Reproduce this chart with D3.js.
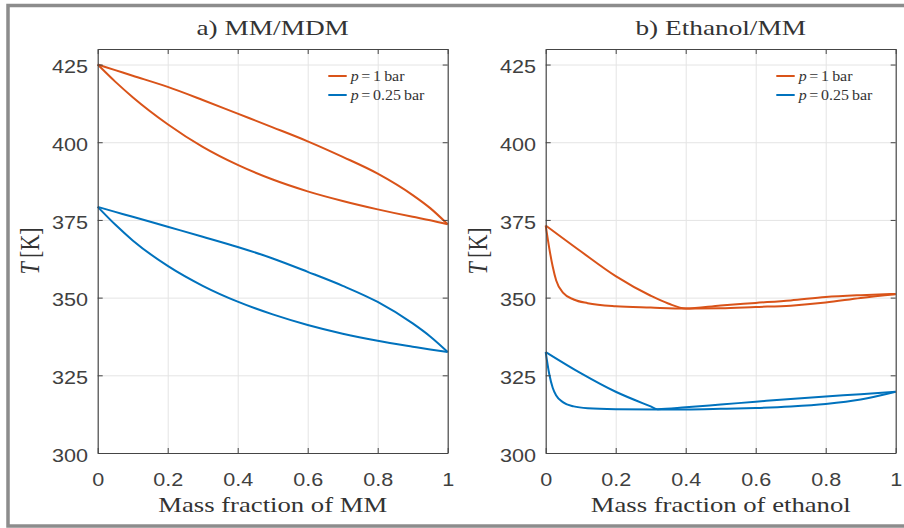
<!DOCTYPE html>
<html>
<head>
<meta charset="utf-8">
<script src="https://cdn.jsdelivr.net/npm/d3@7"></script>
<style>
  body { margin: 0; background: #fff; }
  svg { display: block; }
  .serif { font-family: "Liberation Serif", "DejaVu Serif", "Times New Roman", Times, serif; }
</style>
</head>
<body>
<script>
const [W, H] = [904, 528];
const X_TICKS = [0, 0.2, 0.4, 0.6, 0.8, 1];
const Y_TICKS = [300, 325, 350, 375, 400, 425];
const TITLES = ['a) MM/MDM', 'b) Ethanol/MM'];
const X_LABELS = ['Mass fraction of MM', 'Mass fraction of ethanol'];
const LEGEND = ['1', '0.25'];
const COLORS = ['#D95319', '#0072BD'];

// a) MM/MDM, T in K against mass fraction of MM
const mmX     = [0, 0.05, 0.1, 0.2, 0.3, 0.4, 0.5, 0.6, 0.7, 0.8, 0.9, 0.95, 1];
const mm1Dew  = [425, 423.2, 421.4, 417.8, 413.6, 409.2, 404.8, 400.3, 395.3, 389.9, 383.0, 378.8, 373.6];
const mm1Bub  = [425, 419.5, 414.5, 405.8, 398.5, 392.7, 388.0, 384.2, 381.1, 378.4, 376.0, 374.9, 373.6];
const mmQDew  = [379.2, 377.6, 376.0, 372.8, 369.6, 366.3, 362.6, 358.3, 353.8, 348.6, 341.7, 337.5, 332.5];
const mmQBub  = [379.2, 373.5, 368.4, 360.2, 353.8, 348.7, 344.6, 341.2, 338.4, 336.1, 334.2, 333.3, 332.5];

// b) Ethanol/MM, T in K against mass fraction of ethanol
const eth1DewX = [0, 0.1, 0.2, 0.3, 0.35, 0.4, 0.5, 0.6, 0.7, 0.8, 0.9, 1];
const eth1Dew  = [373.2, 364.9, 356.9, 350.6, 348.1, 346.5, 347.5, 348.3, 349.1, 350.2, 350.8, 351.2];
const eth1BubX = [0, 0.01, 0.02, 0.03, 0.05, 0.08, 0.12, 0.2, 0.3, 0.4, 0.5, 0.6, 0.7, 0.8, 0.9, 1];
const eth1Bub  = [373.2, 366.0, 360.0, 355.5, 351.5, 349.4, 348.2, 347.2, 346.8, 346.5, 346.6, 347.0, 347.4, 348.4, 349.9, 351.1];
const ethQDewX = [0, 0.1, 0.2, 0.3, 0.32, 0.4, 0.5, 0.6, 0.7, 0.8, 0.9, 1];
const ethQDew  = [332.5, 325.7, 319.7, 315.0, 314.1, 314.7, 315.6, 316.5, 317.4, 318.2, 318.9, 319.7];
const ethQBubX = [0, 0.01, 0.02, 0.03, 0.05, 0.08, 0.12, 0.2, 0.32, 0.4, 0.5, 0.6, 0.7, 0.8, 0.9, 1];
const ethQBub  = [332.5, 325.5, 321.0, 318.5, 316.3, 315.0, 314.4, 314.1, 314.0, 314.0, 314.2, 314.5, 315.0, 315.8, 317.2, 319.7];

const zip = (xs, ys) => xs.map((x, i) => [x, ys[i]]);
const PANELS = [
  { series: [[mmX, mm1Dew, 0], [mmX, mm1Bub, 0], [mmX, mmQDew, 1], [mmX, mmQBub, 1]] },
  { series: [[eth1DewX, eth1Dew, 0], [eth1BubX, eth1Bub, 0], [ethQDewX, ethQDew, 1], [ethQBubX, ethQBub, 1]] }
];

const PLOT = { lefts: [97.7, 545.7], w: 350, top: 49, bottom: 453 };
const SX = 1.2;   // text in the figure is horizontally stretched
const SANS = '"Liberation Sans", Arial, sans-serif';
const AXIS_COLOR = '#454545';
const TEXT_COLOR = '#333333';

const svg = d3.select('body').append('svg').attr('width', W).attr('height', H);

// outer frame
svg.append('rect')
  .attr('x', 8).attr('y', 5.5).attr('width', 1000).attr('height', 520.5)
  .attr('fill', 'none').attr('stroke', '#8c8c8c').attr('stroke-width', 3.5);

const yScale = d3.scaleLinear().domain([300, 430]).range([PLOT.bottom, PLOT.top]);

const serifText = (sel, size) => sel
  .attr('class', 'serif').attr('font-size', size).attr('fill', TEXT_COLOR);

PANELS.forEach((panel, p) => {
  const left = PLOT.lefts[p];
  const right = left + PLOT.w;
  const xScale = d3.scaleLinear().domain([0, 1]).range([left, right]);
  const g = svg.append('g');

  // grid
  const gridX = g.append('g')
    .attr('transform', 'translate(0,' + PLOT.bottom + ')')
    .call(d3.axisBottom(xScale).tickValues(X_TICKS.slice(1, -1)).tickSize(-(PLOT.bottom - PLOT.top)).tickFormat(''));
  const gridY = g.append('g')
    .attr('transform', 'translate(' + left + ',0)')
    .call(d3.axisLeft(yScale).tickValues(Y_TICKS.slice(1)).tickSize(-PLOT.w).tickFormat(''));
  [gridX, gridY].forEach(gr => {
    gr.select('.domain').remove();
    gr.selectAll('line').attr('stroke', '#e4e4e4');
  });

  // curves
  const line = d3.line()
    .x(d => xScale(d[0]))
    .y(d => yScale(d[1]))
    .curve(d3.curveMonotoneX);
  panel.series.forEach(([xs, ys, c]) => {
    g.append('path')
      .attr('d', line(zip(xs, ys)))
      .attr('fill', 'none')
      .attr('stroke', COLORS[c])
      .attr('stroke-width', 2)
      .attr('stroke-linejoin', 'round');
  });

  // axes with inward ticks, box on
  const bottomAxis = g.append('g')
    .attr('transform', 'translate(0,' + PLOT.bottom + ')')
    .call(d3.axisBottom(xScale).tickValues(X_TICKS).tickSize(-5).tickSizeOuter(0).tickPadding(20)
      .tickFormat(d3.format('~g')));
  const leftAxis = g.append('g')
    .attr('transform', 'translate(' + left + ',0)')
    .call(d3.axisLeft(yScale).tickValues(Y_TICKS).tickSize(-5).tickSizeOuter(0).tickPadding(8));
  const topAxis = g.append('g')
    .attr('transform', 'translate(0,' + PLOT.top + ')')
    .call(d3.axisTop(xScale).tickValues(X_TICKS).tickSize(-5).tickSizeOuter(0).tickFormat(''));
  const rightAxis = g.append('g')
    .attr('transform', 'translate(' + right + ',0)')
    .call(d3.axisRight(yScale).tickValues(Y_TICKS).tickSize(-5).tickSizeOuter(0).tickFormat(''));

  [bottomAxis, leftAxis, topAxis, rightAxis].forEach(ax => {
    ax.selectAll('.domain, .tick line').attr('stroke', AXIS_COLOR);
    ax.select('.domain').attr('stroke-width', 1.2);
    ax.attr('font-family', SANS);
  });
  [bottomAxis, leftAxis].forEach(ax => ax.selectAll('text')
    .attr('fill', '#404040')
    .attr('font-size', 18)
    .attr('transform', 'scale(' + SX + ',1)'));
  leftAxis.selectAll('text').attr('dy', '0.45em');

  const cx = (left + right) / 2;

  // title
  svg.append('text')
    .attr('transform', 'translate(' + cx + ',35) scale(1.3,1)')
    .attr('text-anchor', 'middle')
    .call(serifText, 21)
    .text(TITLES[p]);

  // x label
  svg.append('text')
    .attr('transform', 'translate(' + cx + ',512) scale(1.27,1)')
    .attr('text-anchor', 'middle')
    .call(serifText, 21)
    .text(X_LABELS[p]);

  // y label
  const yl = svg.append('text')
    .attr('transform', 'translate(' + (left - 59) + ',' + ((PLOT.top + PLOT.bottom) / 2) + ') scale(' + SX + ',1) rotate(-90)')
    .attr('text-anchor', 'middle')
    .call(serifText, 22);
  yl.append('tspan').attr('font-style', 'italic').text('T');
  yl.append('tspan').text('\u2009[K]');

  // legend
  LEGEND.forEach((v, i) => {
    const ly = PLOT.top + 27 + i * 19;
    g.append('line')
      .attr('x1', right - 119.4).attr('x2', right - 101)
      .attr('y1', ly).attr('y2', ly)
      .attr('stroke', COLORS[i]).attr('stroke-width', 2);
    const t = g.append('text')
      .attr('transform', 'translate(' + (right - 97) + ',' + (ly + 5) + ') scale(1.1,1)')
      .call(serifText, 14.5);
    t.append('tspan').attr('font-style', 'italic').text('p');
    t.append('tspan').text('\u2006=\u2006' + v + '\u2009bar');
  });
});
</script>
</body>
</html>
